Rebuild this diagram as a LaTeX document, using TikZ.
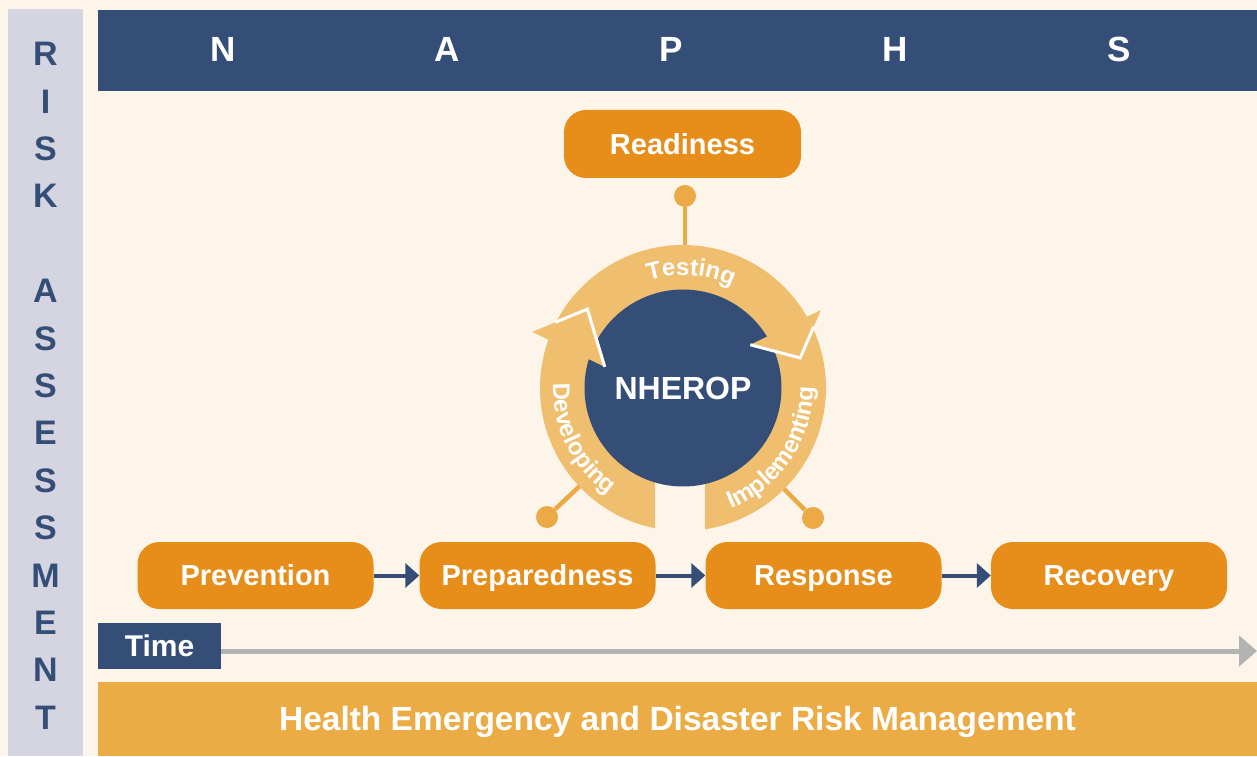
\documentclass[tikz,border=0pt]{standalone}
\usepackage{fontspec}
\setmainfont{Liberation Sans}
\usetikzlibrary{arrows.meta,calc,decorations.text}
\definecolor{cream}{HTML}{FDF5EA}
\definecolor{navy}{HTML}{344E77}
\definecolor{lav}{HTML}{D5D5E2}
\definecolor{boxor}{HTML}{E68D1A}
\definecolor{ringor}{HTML}{F0BE6F}
\definecolor{dotor}{HTML}{EBAA45}
\definecolor{baror}{HTML}{ECAC45}
\definecolor{tgray}{HTML}{B3B3B3}
\newcommand\ringfont{\fontsize{24pt}{24pt}\selectfont\bfseries}
\begin{document}
\begin{tikzpicture}[x=1pt,y=1pt,
  phase/.style={rectangle, rounded corners=22pt, fill=boxor, text=white,
    minimum width=236pt, minimum height=67pt, inner sep=0pt,
    font=\fontsize{29pt}{29pt}\selectfont\bfseries, text height=20.8pt, text depth=0pt},
  topletter/.style={text=white, inner sep=0pt,
    font=\fontsize{35pt}{35pt}\selectfont\bfseries, text height=25pt, text depth=0pt},
  sideletter/.style={text=navy, inner sep=0pt,
    font=\fontsize{34pt}{34pt}\selectfont\bfseries, text height=24.3pt, text depth=0pt},
  dotnode/.style={circle, fill=dotor, minimum size=22pt, inner sep=0pt},
  dotline/.style={dotor, line width=4.5pt},
  flowarrow/.style={navy, line width=4pt, -{Triangle[length=14pt,width=24pt]}},
  ringtext/.style={decorate, decoration={text along path, text align=center, text color=white, text={|\ringfont|#1}}},
  whiteedge/.style={white, line width=3pt, line join=miter}
]
% background and bounding box
\fill[cream] (0,0) rectangle (1257,756);
\useasboundingbox (0,0) rectangle (1257,756);

% left bar
\fill[lav] (8,0) rectangle (83,747);
\foreach \l [count=\k from 0] in {R,I,S,K}
  \node[sideletter] (ra\k) at (45.5, 702.5-47.4*\k) {\l};
\foreach \l [count=\k from 5] in {A,S,S,E,S,S,M,E,N,T}
  \node[sideletter] (rb\k) at (45.5, 702.5-47.4*\k) {\l};

% top bar
\fill[navy] (98,665.3) rectangle (1257,746);
\foreach \l [count=\k from 0] in {N,A,P,H,S}
  \node[topletter] (top\k) at (223.5+224*\k, 707) {\l};

% bottom bar
\node[fill=baror, text=white, minimum width=1159pt, minimum height=74.3pt, inner sep=0pt,
  font=\fontsize{33.5pt}{33.5pt}\selectfont\bfseries, text height=24pt, text depth=0pt]
  (hedrm) at (677.5,37.15) {Health Emergency and Disaster Risk Management};

% time
\node[fill=navy, text=white, minimum width=123pt, minimum height=46pt, inner sep=0pt,
  font=\fontsize{30pt}{30pt}\selectfont\bfseries, text height=21.5pt, text depth=0pt]
  (time) at (159.5,110) {Time};
\coordinate (tend) at (1257,105);
\draw[tgray, line width=5pt, -{Triangle[length=18pt,width=30pt]}] (tend -| time.east) -- (tend);

% ring centre
\coordinate (C) at (683,368);

% dots and their connectors (behind the ring)
\node[dotnode] (dT) at (685,560) {};
\node[dotnode] (dL) at (547,239) {};
\node[dotnode] (dR) at (813,238) {};
\coordinate (rT) at (685,505);
\coordinate (rL) at ($(C)+(223.5:138)$);
\coordinate (rR) at ($(C)+(-45:138)$);
\draw[dotline] (dT) -- (rT);
\draw[dotline] (dL) -- (rL);
\draw[dotline] (dR) -- (rR);

% ring band
\fill[ringor] ($(C)+(258.71:143)$) arc[start angle=258.71, end angle=-81.15, radius=143]
  -- ($(C)+(-76.75:96)$) arc[start angle=-76.75, end angle=253.04, radius=96] -- cycle;

% core circle
\node[circle, fill=navy, minimum size=197pt, inner sep=0pt, text=white,
  font=\fontsize{32pt}{32pt}\selectfont\bfseries, text height=22.9pt, text depth=0pt]
  (core) at (C) {NHEROP};

% arrowheads
\fill[ringor] ($(C)+(159.6:161)$) coordinate (lo) -- ($(C)+(140.5:124)$) coordinate (lt)
  -- ($(C)+(164.9:81)$) coordinate (li) -- cycle;
\draw[whiteedge] ($(lo)!0.42!(lt)$) -- (lt) -- (li);
\fill[ringor] ($(C)+(29.5:158.5)$) coordinate (ro) -- ($(C)+(14.4:121)$) coordinate (rt)
  -- ($(C)+(32.7:80)$) coordinate (ri) -- cycle;
\draw[whiteedge] ($(rt)!0.65!(ro)$) -- (rt) -- (ri);

% ring labels
\path[ringtext=Testing] ($(C)+(112:113)$) arc[start angle=112, end angle=60, radius=113];
\path[ringtext=Developing] ($(C)+(170:130)$) arc[start angle=170, end angle=243, radius=130];
\path[ringtext=Implementing] ($(C)+(-76:130)$) arc[start angle=-76, end angle=8, radius=130];

% phase boxes
\node[phase, minimum width=237pt, minimum height=68pt] (ready) at (682.5,612) {Readiness};
\node[phase] (prev) at (255.5,180.5) {Prevention};
\node[phase] (prep) at (537.5,180.5) {Preparedness};
\node[phase] (resp) at (823.5,180.5) {Response};
\node[phase] (reco) at (1109,180.5) {Recovery};
\draw[flowarrow] (prev) -- (prep);
\draw[flowarrow] (prep) -- (resp);
\draw[flowarrow] (resp) -- (reco);
\end{tikzpicture}
\end{document}
